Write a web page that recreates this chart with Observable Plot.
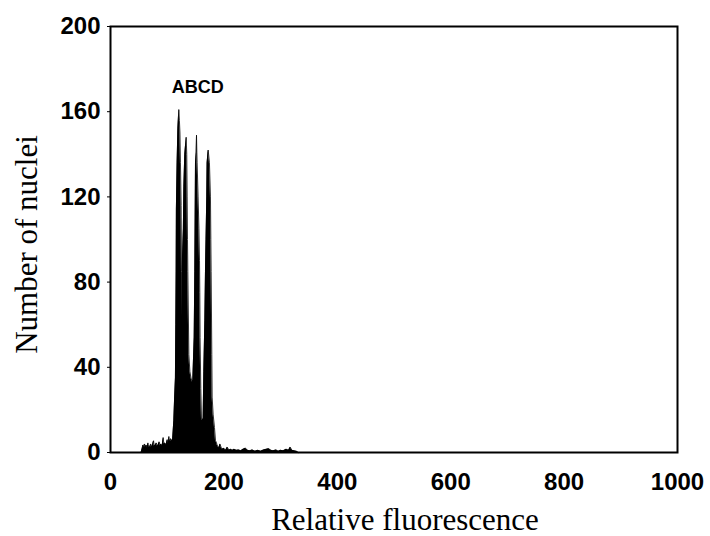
<!DOCTYPE html>
<html><head><meta charset="utf-8">
<script src="https://cdn.jsdelivr.net/npm/d3@7"></script>
<script src="https://cdn.jsdelivr.net/npm/@observablehq/plot@0.6"></script>
<style>body{margin:0;background:#fff}</style>
</head><body><div id="chart"></div>
<script>
// Histogram outline: relative fluorescence (x) vs number of nuclei (y)
const fluorescence = [
  54, 56, 57, 58, 60, 61, 63, 64, 66, 67, 69, 71, 72, 74, 76, 77, 79, 81, 82, 84, 86, 87, 89, 91, 93, 94, 96, 98, 100, 101, 103, 104, 106, 107, 108.5,
  109.5, 110.5, 111.7, 113, 114.5, 115.2, 115.8, 116.2, 117.5, 118.8, 120.5, 121.5, 122.5, 123.4, 124.6, 125.2, 125.8, 126.4, 127, 128.5, 129.4, 131, 133.5,
  134.5, 135.2, 135.8, 136.4, 138.2, 140, 142, 144, 145.2, 146.5, 147.6, 148.7, 149.3, 149.9, 151.2, 151.7, 152.3, 152.8, 154.5, 156, 157, 157.5, 158, 159.3,
  160.5, 161.5, 163.4, 164.6, 166.4, 167.5, 168.5, 169.8, 170.4, 172.3, 174.5, 176.3, 177, 177.5, 178.7, 179.3, 181, 183.4, 185.2, 187, 188,
  189, 191, 193, 195, 197, 200, 203, 206, 209, 212, 215, 218, 222, 226, 230, 234, 238, 242, 246, 250, 255, 260, 265, 270, 275, 279, 283, 287, 292, 296,
  300, 305, 310, 314, 317, 320, 324, 329, 331
];
const nuclei = [
  0, 2, 3.5, 2, 4, 2.5, 3.5, 2, 4.5, 3, 2.5, 4, 2.5, 3.5, 5.5, 3, 3.5, 4.5, 3, 3.5, 5, 3, 4, 3, 7, 4, 4.5, 3.5, 6, 4, 7.5, 5, 6.5, 5, 6,
  6, 10, 15, 25, 35, 60, 85, 114, 136, 152, 161, 156, 150, 136, 116, 85, 63, 80, 92, 105, 125, 140, 148,
  140, 120, 100, 85, 46, 38, 35, 33, 34, 45, 54, 85, 110, 136, 141, 149, 141, 136, 120, 105, 90, 75, 54, 30,
  15.7, 15, 16, 38, 62, 85, 100, 120, 136, 142, 136, 120, 100, 85, 46, 26, 18, 11.7, 5.6, 4.5, 3.5,
  3, 2, 4, 2.5, 1.5, 2, 1, 2.5, 1, 1.5, 1, 1.5, 1, 1.2, 0.8, 1.5, 2, 1, 0.8, 1.2, 0.6, 1, 0.6, 1.2, 1.5, 1.8, 1, 0.8, 1.2, 0.6,
  1, 0.8, 1.5, 1, 2.5, 1, 0.8, 0.5, 0
];
const xTicks = [0, 200, 400, 600, 800, 1000];
const yTicks = [0, 40, 80, 120, 160, 200];
const peakLabel = "ABCD";
const peakLabelX = 154;
const peakLabelY = 171.5;
const xLabel = "Relative fluorescence";
const yLabel = "Number of nuclei";

const data = fluorescence.map((x, i) => ({x, y: nuclei[i]}));

const chart = Plot.plot({
  width: 710,
  height: 536,
  marginLeft: 110,
  marginRight: 33,
  marginTop: 26,
  marginBottom: 84,
  style: {fontFamily: "'Liberation Sans', Arial, sans-serif", background: "#fff", color: "#000"},
  x: {domain: [0, 1000]},
  y: {domain: [0, 200]},
  marks: [
    Plot.areaY(data, {x: "x", y: "y", fill: "#000", curve: "linear"}),
    Plot.lineY(data, {x: "x", y: "y", stroke: "#000", strokeWidth: 0.8}),
    Plot.frame({stroke: "#000", strokeWidth: 2}),
    Plot.axisX({ticks: xTicks, tickSize: 0, tickPadding: 20, fontSize: 24, fontWeight: "bold", label: null, tickFormat: d => String(d)}),
    Plot.axisY({ticks: yTicks, tickSize: 3, tickPadding: 7, fontSize: 24, fontWeight: "bold", label: null, tickFormat: d => String(d)}),
    Plot.text([peakLabel], {x: () => peakLabelX, y: () => peakLabelY, text: d => d, fontSize: 18, fontWeight: "bold", fill: "#000", textAnchor: "middle"}),
    Plot.text([xLabel], {frameAnchor: "bottom", text: d => d, textAnchor: "middle", dx: 11, dy: 77, lineAnchor: "bottom", fontSize: 31, fontFamily: "'Liberation Serif', 'Times New Roman', serif", fill: "#000"}),
    Plot.text([yLabel], {frameAnchor: "left", text: d => d, textAnchor: "middle", rotate: -90, dx: -74, dy: 5, lineAnchor: "bottom", fontSize: 31, fontFamily: "'Liberation Serif', 'Times New Roman', serif", fill: "#000"})
  ]
});
document.getElementById("chart").appendChild(chart);
</script>
</body></html>
